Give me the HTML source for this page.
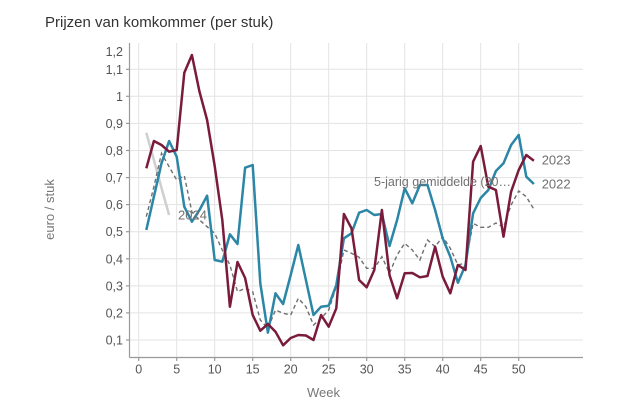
<!DOCTYPE html>
<html><head><meta charset="utf-8"><style>
html,body{margin:0;padding:0;background:#fff;}
svg{display:block;font-family:"Liberation Sans",Arial,sans-serif;}
</style></head><body>
<svg width="626" height="417" viewBox="0 0 626 417" xmlns="http://www.w3.org/2000/svg">
<rect width="626" height="417" fill="#fff"/>
<text x="45" y="27" font-size="15" fill="#333">Prijzen van komkommer (per stuk)</text>
<g stroke="#e3e3e3" stroke-width="1">
<line x1="138.7" y1="43" x2="138.7" y2="357"/><line x1="176.7" y1="43" x2="176.7" y2="357"/>
<line x1="214.7" y1="43" x2="214.7" y2="357"/><line x1="252.7" y1="43" x2="252.7" y2="357"/>
<line x1="290.7" y1="43" x2="290.7" y2="357"/><line x1="328.7" y1="43" x2="328.7" y2="357"/>
<line x1="366.7" y1="43" x2="366.7" y2="357"/><line x1="404.7" y1="43" x2="404.7" y2="357"/>
<line x1="442.7" y1="43" x2="442.7" y2="357"/><line x1="480.7" y1="43" x2="480.7" y2="357"/>
<line x1="518.7" y1="43" x2="518.7" y2="357"/>
<line x1="130" y1="340" x2="583" y2="340"/><line x1="130" y1="312.9" x2="583" y2="312.9"/>
<line x1="130" y1="285.9" x2="583" y2="285.9"/><line x1="130" y1="258.8" x2="583" y2="258.8"/>
<line x1="130" y1="231.7" x2="583" y2="231.7"/><line x1="130" y1="204.6" x2="583" y2="204.6"/>
<line x1="130" y1="177.6" x2="583" y2="177.6"/><line x1="130" y1="150.5" x2="583" y2="150.5"/>
<line x1="130" y1="123.4" x2="583" y2="123.4"/><line x1="130" y1="96.3" x2="583" y2="96.3"/>
<line x1="130" y1="69.3" x2="583" y2="69.3"/>
</g>
<g stroke="#999" stroke-width="1.2">
<line x1="129.5" y1="43" x2="129.5" y2="357.5"/>
<line x1="129.5" y1="357.5" x2="583" y2="357.5"/>
<line x1="126" y1="340" x2="129.5" y2="340"/><line x1="126" y1="312.9" x2="129.5" y2="312.9"/>
<line x1="126" y1="285.9" x2="129.5" y2="285.9"/><line x1="126" y1="258.8" x2="129.5" y2="258.8"/>
<line x1="126" y1="231.7" x2="129.5" y2="231.7"/><line x1="126" y1="204.6" x2="129.5" y2="204.6"/>
<line x1="126" y1="177.6" x2="129.5" y2="177.6"/><line x1="126" y1="150.5" x2="129.5" y2="150.5"/>
<line x1="126" y1="123.4" x2="129.5" y2="123.4"/><line x1="126" y1="96.3" x2="129.5" y2="96.3"/>
<line x1="126" y1="69.3" x2="129.5" y2="69.3"/>
<line x1="138.7" y1="357.5" x2="138.7" y2="361"/><line x1="176.7" y1="357.5" x2="176.7" y2="361"/>
<line x1="214.7" y1="357.5" x2="214.7" y2="361"/><line x1="252.7" y1="357.5" x2="252.7" y2="361"/>
<line x1="290.7" y1="357.5" x2="290.7" y2="361"/><line x1="328.7" y1="357.5" x2="328.7" y2="361"/>
<line x1="366.7" y1="357.5" x2="366.7" y2="361"/><line x1="404.7" y1="357.5" x2="404.7" y2="361"/>
<line x1="442.7" y1="357.5" x2="442.7" y2="361"/><line x1="480.7" y1="357.5" x2="480.7" y2="361"/>
<line x1="518.7" y1="357.5" x2="518.7" y2="361"/>
</g>
<g font-size="12.5" fill="#555" text-anchor="end">
<text x="123" y="344.5">0,1</text><text x="123" y="317.4">0,2</text>
<text x="123" y="290.4">0,3</text><text x="123" y="263.3">0,4</text>
<text x="123" y="236.2">0,5</text><text x="123" y="209.1">0,6</text>
<text x="123" y="182.1">0,7</text><text x="123" y="155">0,8</text>
<text x="123" y="127.9">0,9</text><text x="123" y="100.8">1</text>
<text x="123" y="73.8">1,1</text><text x="123" y="56">1,2</text>
</g>
<g font-size="12.5" fill="#555" text-anchor="middle">
<text x="138.7" y="373.5">0</text><text x="176.7" y="373.5">5</text>
<text x="214.7" y="373.5">10</text><text x="252.7" y="373.5">15</text>
<text x="290.7" y="373.5">20</text><text x="328.7" y="373.5">25</text>
<text x="366.7" y="373.5">30</text><text x="404.7" y="373.5">35</text>
<text x="442.7" y="373.5">40</text><text x="480.7" y="373.5">45</text>
<text x="518.7" y="373.5">50</text>
</g>
<text x="307" y="397" font-size="13" fill="#777">Week</text>
<text transform="translate(54,209.5) rotate(-90)" font-size="13" fill="#777" text-anchor="middle">euro / stuk</text>

<polyline fill="none" stroke="#cfcfcf" stroke-width="2.5" points="146.3,132.7 153.9,160 161.5,188 169.1,215"/>

<polyline fill="none" stroke="#6e6e6e" stroke-width="1.4" stroke-dasharray="4,3" points="146.3,216.7 153.9,186.7 161.5,153.3 169.1,166.7 176.7,180 184.3,175.7 191.9,212 199.5,220 207.1,226.7 214.7,233.3 222.3,250 229.9,265 237.5,291.7 245.1,288.3 252.7,291.7 260.3,320 267.9,328.3 275.5,310 283.1,313.3 290.7,315 298.3,298.3 305.9,306.7 313.5,325 321.1,318.3 328.7,310 336.3,286.7 343.9,250 351.5,253.3 359.1,257.3 366.7,268.3 374.3,268.3 381.9,256.7 389.5,273.3 397.1,255 404.7,243.3 412.3,250 419.9,260 427.5,240 435.1,246.7 442.7,236.7 450.3,248.3 457.9,265 465.5,263 473.1,223.3 480.7,227.3 488.3,227.3 495.9,223 503.5,227.3 511.1,205 518.7,191 526.3,196.7 533.9,209.3"/>

<polyline fill="none" stroke="#2c86a6" stroke-width="2.5" stroke-linejoin="round" points="146.3,230 153.9,196.7 161.5,163.3 169.1,141 176.7,156.7 184.3,206.7 191.9,221.7 199.5,210 207.1,195.7 214.7,260 222.3,261.7 229.9,234.3 237.5,244 245.1,167.7 252.7,165 260.3,283.3 267.9,332.7 275.5,293.3 283.1,304 290.7,275 298.3,245 305.9,280 313.5,315 321.1,306.7 328.7,305.7 336.3,285 343.9,238.3 351.5,233.3 359.1,212.7 366.7,210 374.3,215 381.9,214 389.5,246 397.1,220 404.7,188.3 412.3,203.3 419.9,185 427.5,185 435.1,210 442.7,238.3 450.3,256.7 457.9,282.7 465.5,265 473.1,213.3 480.7,198 488.3,190 495.9,171 503.5,163.3 511.1,145 518.7,135 526.3,176.7 533.9,184"/>

<polyline fill="none" stroke="#7a1b3c" stroke-width="2.5" stroke-linejoin="round" points="146.3,168.3 153.9,141 161.5,145 169.1,151.7 176.7,150 184.3,72.7 191.9,55 199.5,91.7 207.1,120 214.7,166 222.3,220 229.9,306.7 237.5,262 245.1,278 252.7,315 260.3,330.7 267.9,324 275.5,331.7 283.1,345.3 290.7,338 298.3,335 305.9,335.5 313.5,340 321.1,315 328.7,326.7 336.3,308.3 343.9,214 351.5,228.3 359.1,280 366.7,287.3 374.3,270 381.9,210 389.5,275 397.1,298.3 404.7,273.3 412.3,273 419.9,277.3 427.5,276 435.1,246.7 442.7,276.7 450.3,293.3 457.9,265 465.5,270 473.1,161.7 480.7,146 488.3,186.7 495.9,190 503.5,236.7 511.1,191.7 518.7,170 526.3,155 533.9,160.7"/>

<g font-size="13" fill="#707070">
<text x="178" y="219.5">2024</text>
<text x="374" y="186.2" textLength="137" lengthAdjust="spacingAndGlyphs">5-jarig gemiddelde (20…</text>
<text x="541.7" y="164.5">2023</text>
<text x="541.7" y="188.5">2022</text>
</g>
</svg>
</body></html>
